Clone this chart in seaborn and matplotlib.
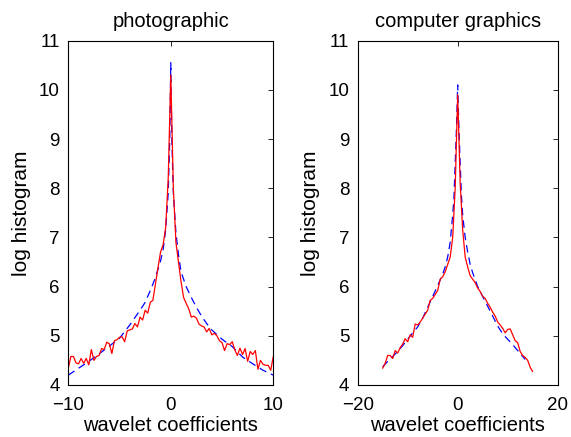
import numpy as np
import pandas as pd
import seaborn as sns
import matplotlib
matplotlib.use("Agg")
import matplotlib.pyplot as plt

# photographic: empirical log histogram (red) and fitted model (blue dashed)
photo_x = np.arange(-10, 10.01, 0.25)
photo_hist = [4.34, 4.58, 4.58, 4.45, 4.43, 4.54, 4.44, 4.54, 4.41, 4.72,
              4.50, 4.58, 4.60, 4.74, 4.72, 4.87, 4.84, 4.64, 4.90, 4.92,
              4.97, 4.98, 4.88, 5.10, 5.12, 5.14, 5.25, 5.18, 5.38, 5.32,
              5.52, 5.46, 5.68, 5.72, 6.05, 6.38, 6.70, 6.85, 7.20, 8.20,
              10.30,
              8.00, 6.90, 6.50, 6.10, 5.78, 5.66, 5.55, 5.38, 5.40, 5.36,
              5.24, 5.20, 5.18, 5.08, 5.15, 5.02, 5.05, 5.00, 4.90, 4.86,
              4.70, 4.84, 4.82, 4.88, 4.71, 4.60, 4.75, 4.62, 4.74, 4.48,
              4.68, 4.62, 4.70, 4.32, 4.50, 4.42, 4.40, 4.40, 4.30, 4.58]
photo_fit_x = [-10, -9, -8, -7, -6, -5, -4, -3, -2.5, -2, -1.5, -1, -0.75,
               -0.5, -0.25, -0.1, 0, 0.1, 0.25, 0.5, 0.75, 1, 1.5, 2, 2.5,
               3, 3.5, 4, 5, 6, 7, 8, 9, 10]
photo_fit = [4.20, 4.34, 4.48, 4.63, 4.79, 4.95, 5.22, 5.52, 5.68, 5.92,
             6.18, 6.52, 6.75, 7.15, 7.90, 9.00, 10.55, 9.00, 7.90, 7.10,
             6.65, 6.30, 6.00, 5.78, 5.58, 5.40, 5.25, 5.12, 4.93, 4.78,
             4.57, 4.43, 4.30, 4.20]

# computer graphics
cg_x = np.arange(-15, 15.01, 0.5)
cg_hist = [4.34, 4.44, 4.60, 4.60, 4.54, 4.70, 4.65, 4.76, 4.83, 4.94,
           4.88, 5.02, 4.97, 5.24, 5.22, 5.28, 5.36, 5.44, 5.52, 5.72,
           5.76, 5.84, 5.92, 6.15, 6.20, 6.30, 6.45, 6.60, 7.00, 8.00,
           9.90,
           8.10, 7.15, 6.60, 6.40, 6.22, 6.15, 6.08, 5.97, 5.90, 5.80,
           5.76, 5.66, 5.58, 5.48, 5.40, 5.28, 5.22, 5.15, 5.06, 5.13,
           5.14, 5.02, 4.90, 4.86, 4.68, 4.60, 4.56, 4.50, 4.36, 4.27]
cg_fit_x = [-15, -14, -13, -12, -11, -10, -9, -8, -7, -6, -5, -4, -3, -2.5,
            -2, -1.5, -1, -0.75, -0.5, -0.25, 0, 0.25, 0.5, 0.75, 1, 1.5,
            2, 2.5, 3, 4, 5, 6, 7, 8, 9, 10, 11, 12, 13, 13.5]
cg_fit = [4.37, 4.48, 4.58, 4.68, 4.80, 4.93, 5.06, 5.18, 5.36, 5.58,
          5.80, 6.02, 6.25, 6.40, 6.60, 6.90, 7.45, 7.80, 8.50, 9.20,
          10.10, 9.20, 8.50, 7.85, 7.45, 7.00, 6.70, 6.45, 6.28, 6.00,
          5.80, 5.60, 5.40, 5.20, 5.04, 4.93, 4.82, 4.70, 4.58, 4.52]

panels = [
    ("photographic", photo_x, photo_hist, photo_fit_x, photo_fit, (-10, 10), [-10, 0, 10]),
    ("computer graphics", cg_x, cg_hist, cg_fit_x, cg_fit, (-20, 20), [-20, 0, 20]),
]

sns.set_style("white", {"text.color": "black", "axes.labelcolor": "black",
                        "xtick.color": "black", "ytick.color": "black"})
plt.rcParams['font.family'] = ['Liberation Sans', 'DejaVu Sans']

fig = plt.figure(figsize=(5.71, 4.37), dpi=100)
boxes = [[0.1196, 0.119, 0.359, 0.788], [0.6264, 0.119, 0.3503, 0.788]]

for box, (title, hx, hy, fx, fy, xlim, xticks) in zip(boxes, panels):
    ax = fig.add_axes(box)
    sns.lineplot(x=fx, y=fy, ax=ax, color="blue", linewidth=0.9,
                 linestyle=(0, (6, 4)))
    sns.lineplot(x=hx, y=hy, ax=ax, color="red", linewidth=0.9)
    ax.set_xlim(*xlim)
    ax.set_ylim(4, 11)
    ax.set_xticks(xticks)
    ax.set_yticks(range(4, 12))
    ax.tick_params(direction="in", length=3.5, width=0.6, top=True, right=True,
                   labelsize=13.5, colors="black", pad=6)
    ax.tick_params(axis="x", pad=9)
    for s in ax.spines.values():
        s.set_visible(True)
        s.set_color("black")
        s.set_linewidth(0.8)
    ax.set_title(title, fontsize=14.5, pad=10, color="black")
    ax.set_xlabel("wavelet coefficients", fontsize=14.5, labelpad=1, color="black")
    ax.set_ylabel("log histogram", fontsize=15, labelpad=6, color="black")

fig.savefig("out.png", dpi=100, facecolor="white")
